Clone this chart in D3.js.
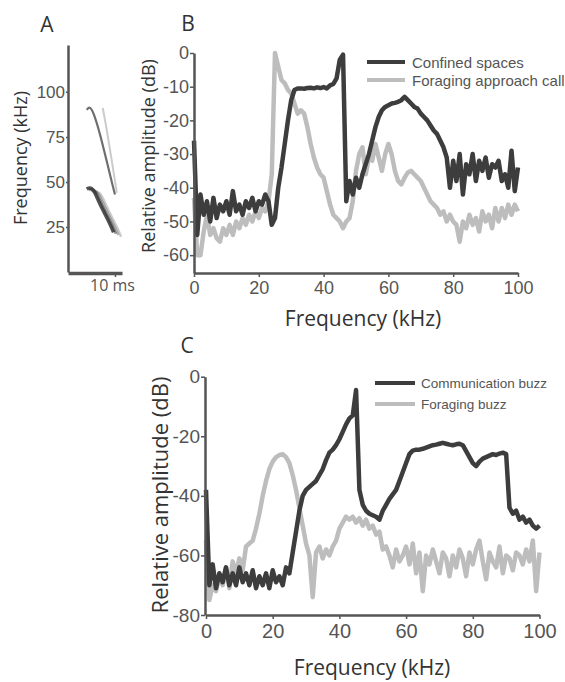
<!DOCTYPE html>
<html>
<head>
<meta charset="utf-8">
<script src="https://cdn.jsdelivr.net/npm/d3@7"></script>
<style>
  body { margin: 0; background: #fff; }
  .tick text { fill: #555; }
</style>
</head>
<body>
<div id="vis"></div>
<script>
// ---- data ----
// frequency bins (kHz), one value per kHz
const FREQS = d3.range(0, 101, 1);

// panel B spectra (dB)
const CONFINED = [-26, -54, -42, -48, -44, -50, -43, -49, -45, -47,
  -44, -48, -41, -47, -45, -48, -44, -46, -43, -47,
  -44, -45, -42, -44, -51, -49, -40, -34, -27, -20,
  -14, -11, -10.5, -10.5, -10.6, -10.4, -10.3, -10.5, -10.2, -10.4,
  -10.1, -10.5, -9.6, -9.2, -7.5, -2, -0.5, -44, -38, -42,
  -37, -40, -36, -33, -30, -26, -22, -19, -17, -16,
  -15.5, -15, -14.8, -14.5, -14, -13, -14, -15, -16, -16.5,
  -18, -19, -20, -21.5, -23, -24, -26, -28, -31, -40,
  -32, -38, -30, -42, -33, -36, -30, -38, -32, -35,
  -31, -37, -33, -34, -32, -38, -36, -40, -29, -41, -34];
const APPROACH = [-43, -60, -60, -53, -48, -54, -52, -55, -56, -52,
  -54, -51, -54, -50, -52, -49, -51, -48, -50, -47,
  -49, -46, -47, -44, -36, 0, -4, -8, -9, -11,
  -12, -15, -18, -17, -18, -22, -27, -31, -34, -36,
  -37, -41, -45, -48, -49, -50, -52, -50, -49, -44,
  -35, -30, -28, -36, -31, -32, -27, -31, -35, -30,
  -27, -30, -35, -38, -39, -37, -35.5, -35, -36, -37,
  -38, -40, -42, -44, -45, -46, -48, -47, -50, -48,
  -50, -51, -56, -50, -52, -48, -51, -49, -53, -47,
  -50, -48, -52, -46, -50, -46, -49, -45, -48, -45, -47];

// panel C spectra (dB)
const COMM_BUZZ = [-38, -70, -63, -71, -66, -69, -64, -70, -66, -70,
  -64, -69, -66, -70, -65, -71, -67, -70, -66, -71,
  -65, -69, -67, -70, -64, -66, -59, -52, -45, -40,
  -38, -37, -36, -35, -33, -31, -28, -25.5, -24.5, -23,
  -21, -18.5, -16, -14, -13, -4.5, -38, -43, -45, -46,
  -46.5, -47, -48, -45, -43, -41, -39.5, -38, -35, -32,
  -29, -26, -24.8, -24.5, -24.5, -24.2, -23.8, -23.4, -23, -22.8,
  -22.5, -22.2, -22.5, -22.8, -23, -22.7, -22.5, -23, -25, -27,
  -29, -30, -28.5, -27.5, -27, -26.5, -26, -26.3, -25.8, -25.5,
  -26, -44, -46, -45, -48, -47, -49, -48, -50, -51, -50];
const FORAGE_BUZZ = [-55, -75, -70, -72, -67, -70, -64, -71, -62, -66,
  -61, -65, -57, -56, -55, -51, -46, -40, -35, -31,
  -28.5, -27, -26.3, -26, -27, -29, -33, -38, -44, -50,
  -56, -60, -74, -59, -57, -61, -58, -60, -57, -55,
  -51, -49, -47, -48, -47, -49, -47.5, -50, -48, -51,
  -50, -53, -52, -58, -57, -60, -64, -58, -62, -60,
  -57, -63, -56, -66, -59, -72, -60, -63, -58, -62,
  -66, -59, -61, -67, -60, -64, -58, -61, -67, -59,
  -63, -58, -55, -62, -68, -59, -62, -64, -57, -66,
  -60, -61, -65, -59, -60, -63, -58, -62, -55, -72, -59];

// panel A call contours (time ms, frequency kHz)
const FUND_T = [4.0, 4.6, 5.4, 6.4, 7.5, 8.9, 9.7];
const FUND_F = [46, 47, 46, 40, 34, 27, 22];
const HARM_T = [4.0, 4.6, 5.4, 6.8, 8.2, 9.6, 10.0];
const HARM_F = [90, 92, 89, 77, 62, 47, 43];
const FAINT_T = [7.4, 8.2, 9.0, 9.8, 10.4];
const FAINT_F = [91, 80, 67, 54, 44];
const CALL_SHIFT = [0, 0.5, 1.0, 1.6];
const CALL_ALPHA = [0.85, 0.5, 0.35, 0.25];

const B_TICKS_Y = [0, -10, -20, -30, -40, -50, -60];
const C_TICKS_Y = [0, -20, -40, -60, -80];
const F_TICKS = [0, 20, 40, 60, 80, 100];
const A_TICKS_Y = [25, 50, 75, 100];

const DARK = "#3d3d3d";
const LIGHT = "#bdbdbd";
const AXIS = "#555";
const NUM_FONT = "'Liberation Sans', Arial, sans-serif";
const TXT_FONT = "'Open Sans', sans-serif";

const SVG = d3.select("#vis")
  .append("svg")
    .attr("width", 565)
    .attr("height", 682);

function styleAxis(g, size) {
  g.select(".domain").attr("stroke", AXIS).attr("stroke-width", 2.5);
  g.selectAll(".tick line").attr("stroke", AXIS).attr("stroke-width", 1.5);
  g.selectAll(".tick text")
    .attr("font-family", NUM_FONT)
    .attr("font-size", size);
}

function label(x, y, txt, size, rotate) {
  SVG.append("text")
    .attr("transform", "translate(" + x + "," + y + ")" + (rotate ? " rotate(-90)" : ""))
    .attr("text-anchor", "middle")
    .attr("dominant-baseline", "central")
    .attr("font-family", TXT_FONT)
    .attr("font-size", size)
    .attr("fill", "#333")
    .text(txt);
}

// plain hyphen for negatives, like the original figure
const fmt = d => String(d);

// ---- panel A: spectrogram sketch ----
const AX = d3.scaleLinear().domain([0, 11.5]).range([68, 122]);
const AY = d3.scaleLinear().domain([0, 126]).range([272, 45]);

const blur = SVG.append("defs").append("filter").attr("id", "soft");
blur.append("feGaussianBlur").attr("stdDeviation", 0.7);

const aLine = d3.line()
  .x(d => AX(d[0]))
  .y(d => AY(d[1]))
  .curve(d3.curveBasis);

CALL_SHIFT.forEach((s, i) => {
  SVG.append("path")
    .attr("d", aLine(FUND_T.map((t, j) => [t + s, FUND_F[j] - s * 1.5])))
    .attr("fill", "none")
    .attr("stroke", "#333")
    .attr("stroke-width", i == 0 ? 3.5 : 2.5)
    .attr("opacity", CALL_ALPHA[i])
    .attr("filter", "url(#soft)");
});
SVG.append("path")
  .attr("d", aLine(HARM_T.map((t, j) => [t, HARM_F[j]])))
  .attr("fill", "none")
  .attr("stroke", "#333")
  .attr("stroke-width", 2.2)
  .attr("opacity", 0.7)
  .attr("filter", "url(#soft)");
SVG.append("path")
  .attr("d", aLine(FAINT_T.map((t, j) => [t, FAINT_F[j]])))
  .attr("fill", "none")
  .attr("stroke", "#555")
  .attr("stroke-width", 2)
  .attr("opacity", 0.3)
  .attr("filter", "url(#soft)");

SVG.append("g")
  .attr("transform", "translate(68,0)")
  .call(d3.axisLeft(AY).tickValues(A_TICKS_Y).tickSize(2).tickSizeOuter(0).tickPadding(1))
  .call(g => styleAxis(g, 17));
SVG.append("g")
  .attr("transform", "translate(0,273)")
  .call(d3.axisBottom(AX).tickValues([10]).tickSize(4).tickSizeOuter(0).tickFormat(d => d + " ms"))
  .call(g => styleAxis(g, 16))
  .call(g => g.select(".domain").attr("stroke-width", 3.5))
  .call(g => g.selectAll(".tick text").attr("font-family", TXT_FONT).attr("dx", "-3px"));

label(47, 24, "A", 21, false);
label(20, 158, "Frequency (kHz)", 18, true);

// ---- panel B ----
const BX = d3.scaleLinear().domain([0, 100]).range([194, 518]);
const BY = d3.scaleLinear().domain([-65.3, 0]).range([273, 53]);

const bLine = d3.line()
  .x((d, i) => BX(FREQS[i]))
  .y(d => BY(d));

SVG.append("path")
  .attr("d", bLine(APPROACH))
  .attr("fill", "none")
  .attr("stroke", LIGHT)
  .attr("stroke-width", 4.5)
  .attr("stroke-linejoin", "round");
SVG.append("path")
  .attr("d", bLine(CONFINED))
  .attr("fill", "none")
  .attr("stroke", DARK)
  .attr("stroke-width", 4.5)
  .attr("stroke-linejoin", "round");

SVG.append("g")
  .attr("transform", "translate(194,0)")
  .call(d3.axisLeft(BY).tickValues(B_TICKS_Y).tickFormat(fmt).tickSize(4).tickSizeOuter(0).tickPadding(1))
  .call(g => styleAxis(g, 18));
SVG.append("g")
  .attr("transform", "translate(0,273)")
  .call(d3.axisBottom(BX).tickValues(F_TICKS).tickSize(4).tickSizeOuter(0).tickPadding(4))
  .call(g => styleAxis(g, 18));

label(188, 23, "B", 21, false);
label(148, 156, "Relative amplitude (dB)", 18, true);
label(363, 318, "Frequency (kHz)", 21, false);

// legend B
[["Confined spaces", DARK, 62], ["Foraging approach call", LIGHT, 80]].forEach(r => {
  SVG.append("line")
    .attr("x1", 367).attr("x2", 405)
    .attr("y1", r[2]).attr("y2", r[2])
    .attr("stroke", r[1]).attr("stroke-width", 4);
  SVG.append("text")
    .attr("x", 412).attr("y", r[2])
    .attr("dominant-baseline", "central")
    .attr("font-family", NUM_FONT)
    .attr("font-size", 15)
    .attr("fill", "#555")
    .text(r[0]);
});

// ---- panel C ----
const CX = d3.scaleLinear().domain([0, 100]).range([206, 539.5]);
const CY = d3.scaleLinear().domain([-80, 0]).range([615, 376.7]);

const cLine = d3.line()
  .x((d, i) => CX(FREQS[i]))
  .y(d => CY(d));

SVG.append("path")
  .attr("d", cLine(FORAGE_BUZZ))
  .attr("fill", "none")
  .attr("stroke", LIGHT)
  .attr("stroke-width", 4.5)
  .attr("stroke-linejoin", "round");
SVG.append("path")
  .attr("d", cLine(COMM_BUZZ))
  .attr("fill", "none")
  .attr("stroke", DARK)
  .attr("stroke-width", 4.5)
  .attr("stroke-linejoin", "round");

SVG.append("g")
  .attr("transform", "translate(205,0)")
  .call(d3.axisLeft(CY).tickValues(C_TICKS_Y).tickFormat(fmt).tickSize(4).tickSizeOuter(0).tickPadding(1))
  .call(g => styleAxis(g, 19));
SVG.append("g")
  .attr("transform", "translate(0,615)")
  .call(d3.axisBottom(CX).tickValues(F_TICKS).tickSize(4).tickSizeOuter(0).tickPadding(5))
  .call(g => styleAxis(g, 20));

label(187, 345, "C", 21, false);
label(159, 495, "Relative amplitude (dB)", 22, true);
label(372, 667, "Frequency (kHz)", 21, false);

// legend C
[["Communication buzz", DARK, 383], ["Foraging buzz", LIGHT, 404]].forEach(r => {
  SVG.append("line")
    .attr("x1", 375).attr("x2", 415)
    .attr("y1", r[2]).attr("y2", r[2])
    .attr("stroke", r[1]).attr("stroke-width", 4);
  SVG.append("text")
    .attr("x", 421).attr("y", r[2])
    .attr("dominant-baseline", "central")
    .attr("font-family", NUM_FONT)
    .attr("font-size", 13.5)
    .attr("fill", "#555")
    .text(r[0]);
});
</script>
</body>
</html>
